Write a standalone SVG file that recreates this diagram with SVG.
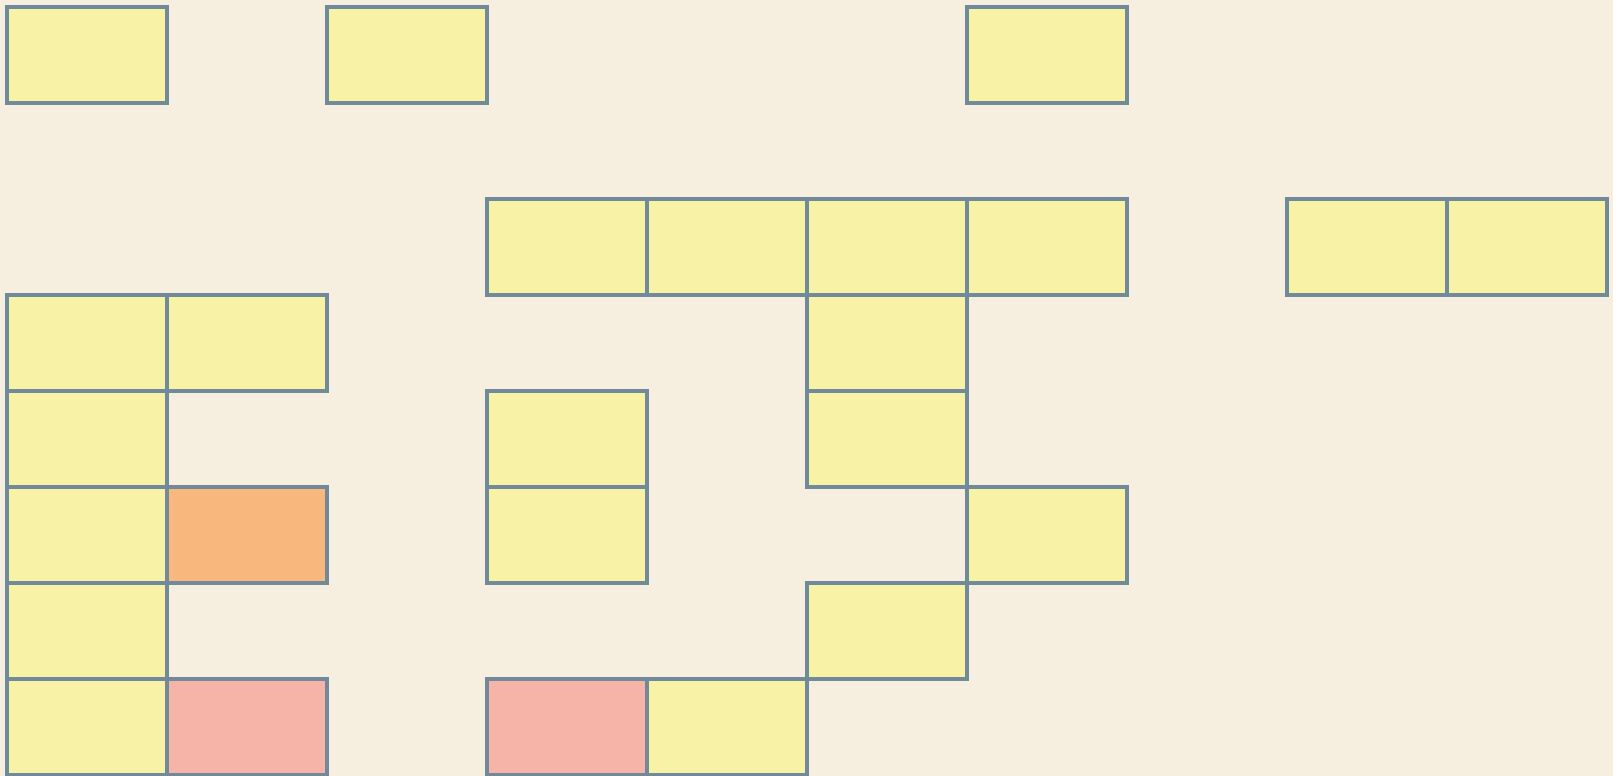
<svg xmlns="http://www.w3.org/2000/svg" width="1613" height="776" viewBox="0 0 1613 776">
<style>
.c{stroke:#718A9B;stroke-width:4}
.y{fill:#F7F2A6}
.o{fill:#F8B87D}
.p{fill:#F6B3A8}
</style>
<rect width="1613" height="776" fill="#F6EFDF"/>
<g id="nodes">
<rect id="r0c0" class="c y" x="7" y="7" width="160" height="96"/>
<rect id="r0c2" class="c y" x="327" y="7" width="160" height="96"/>
<rect id="r0c6" class="c y" x="967" y="7" width="160" height="96"/>
<rect id="r2c3" class="c y" x="487" y="199" width="160" height="96"/>
<rect id="r2c4" class="c y" x="647" y="199" width="160" height="96"/>
<rect id="r2c5" class="c y" x="807" y="199" width="160" height="96"/>
<rect id="r2c6" class="c y" x="967" y="199" width="160" height="96"/>
<rect id="r2c8" class="c y" x="1287" y="199" width="160" height="96"/>
<rect id="r2c9" class="c y" x="1447" y="199" width="160" height="96"/>
<rect id="r3c0" class="c y" x="7" y="295" width="160" height="96"/>
<rect id="r3c1" class="c y" x="167" y="295" width="160" height="96"/>
<rect id="r3c5" class="c y" x="807" y="295" width="160" height="96"/>
<rect id="r4c0" class="c y" x="7" y="391" width="160" height="96"/>
<rect id="r4c3" class="c y" x="487" y="391" width="160" height="96"/>
<rect id="r4c5" class="c y" x="807" y="391" width="160" height="96"/>
<rect id="r5c0" class="c y" x="7" y="487" width="160" height="96"/>
<rect id="r5c1" class="c o" x="167" y="487" width="160" height="96"/>
<rect id="r5c3" class="c y" x="487" y="487" width="160" height="96"/>
<rect id="r5c6" class="c y" x="967" y="487" width="160" height="96"/>
<rect id="r6c0" class="c y" x="7" y="583" width="160" height="96"/>
<rect id="r6c5" class="c y" x="807" y="583" width="160" height="96"/>
<rect id="r7c0" class="c y" x="7" y="679" width="160" height="96"/>
<rect id="r7c1" class="c p" x="167" y="679" width="160" height="96"/>
<rect id="r7c3" class="c p" x="487" y="679" width="160" height="96"/>
<rect id="r7c4" class="c y" x="647" y="679" width="160" height="96"/>
</g>
<g id="connectors"></g>
</svg>
